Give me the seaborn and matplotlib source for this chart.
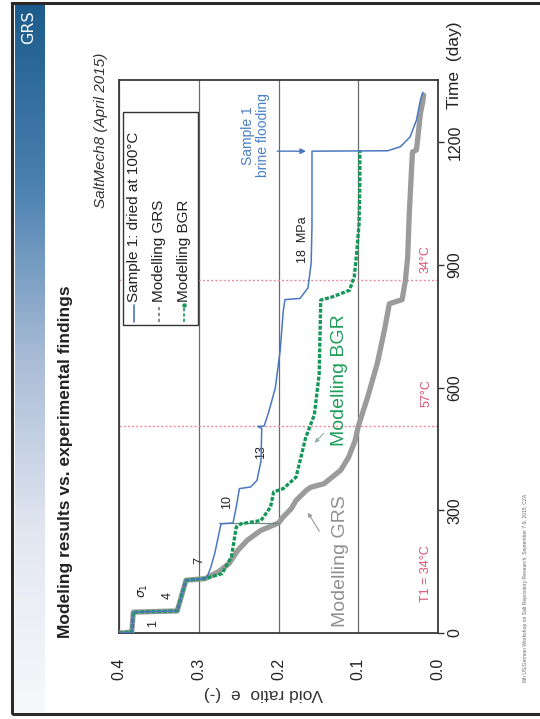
import numpy as np
import matplotlib
matplotlib.use('Agg')
import matplotlib.pyplot as plt
import seaborn as sns
import pandas as pd
from matplotlib.patches import Rectangle
from matplotlib.lines import Line2D
from matplotlib.colors import LinearSegmentedColormap

sns.set_theme(style='white')
plt.rcParams['font.family'] = ['Liberation Sans', 'DejaVu Sans']

# ---------------- data ----------------
# Sample 1 (experiment): void ratio e vs time (day)
sample_e = [0.400, 0.384, 0.382, 0.327, 0.316, 0.292, 0.289, 0.285, 0.280, 0.273, 0.272,
            0.257, 0.253, 0.249, 0.235, 0.227, 0.222, 0.221, 0.226, 0.218, 0.212,
            0.204, 0.198, 0.194, 0.192, 0.173, 0.163, 0.159, 0.158, 0.158,
            0.063, 0.047, 0.035, 0.027, 0.022, 0.019]
sample_t = [0, 2, 51, 54, 129, 133, 140, 160, 194, 259, 267,
            269, 308, 353, 357, 373, 420, 500, 505, 506, 542,
            599, 689, 787, 815, 818, 844, 905, 1000, 1178,
            1179, 1189, 1213, 1254, 1303, 1322]
# Modelling GRS
grs_e = [0.400, 0.384, 0.382, 0.327, 0.316, 0.292, 0.275, 0.262, 0.251, 0.239, 0.222,
         0.200, 0.194, 0.184, 0.178, 0.165, 0.160, 0.143, 0.122, 0.112, 0.104,
         0.100, 0.088, 0.076, 0.067, 0.061, 0.045, 0.041, 0.038, 0.036, 0.033,
         0.032, 0.027, 0.022, 0.019, 0.018]
grs_t = [0, 2, 51, 54, 129, 133, 150, 170, 202, 227, 251,
         269, 284, 304, 324, 349, 356, 365, 398, 430, 470,
         505, 578, 660, 742, 805, 815, 860, 920, 1026, 1140,
         1176, 1181, 1270, 1300, 1315]
# Modelling BGR
bgr_e = [0.400, 0.384, 0.382, 0.327, 0.316, 0.292, 0.271, 0.259, 0.253, 0.247, 0.222,
         0.210, 0.206, 0.194, 0.178, 0.166, 0.155, 0.149, 0.147, 0.132, 0.111,
         0.105, 0.102, 0.099, 0.098, 0.098]
bgr_t = [0, 2, 51, 54, 129, 133, 145, 186, 259, 267, 275,
         308, 345, 353, 381, 477, 534, 633, 814, 822, 838,
         871, 929, 1000, 1100, 1180]
# extra thin step line of the GRS model at ~268 d
grs_step_e = [0.275, 0.200]
grs_step_t = [268, 268]

time_ticks = [0, 300, 600, 900, 1200]
void_ticks = [0.4, 0.3, 0.2, 0.1, 0.0]
void_tick_labels = ['0.4', '0.3', '0.2', '0.1', '0.0']

temp_change_t = [505, 863]
temp_labels = ['T1 = 34°C', '57°C', '34°C']
temp_label_t = [144, 587, 915]

stress_labels = ['1', '4', r'$\sigma_1$', '7', '10', '13', '18  MPa']
stress_e = [0.357, 0.339, 0.369, 0.299, 0.265, 0.222, 0.169]
stress_t = [23, 92, 104, 178, 320, 443, 905]

# ---------------- figure ----------------
W, H = 540, 719
fig = plt.figure(figsize=(W / 100, H / 100), dpi=100)
fig.patch.set_facecolor('white')

def fx(px):
    return px / W

def fy(py):
    return 1 - py / H

# left blue band with gradient
band = fig.add_axes([fx(15), fy(712), fx(45) - fx(15), fy(5) - fy(712)])
grad = np.linspace(0, 1, 256).reshape(-1, 1)
cmap = LinearSegmentedColormap.from_list('band', ['#1c5c8c', '#4a80b0', '#a9bcd6', '#e3e7f1', '#f7f8fb'])
band.imshow(grad, aspect='auto', cmap=cmap, extent=[0, 1, 0, 1], origin='upper')
band.axis('off')
fig.text(fx(29), fy(27), 'GRS', rotation=90, color='white', fontsize=11.5,
         ha='center', va='center', family=['DejaVu Sans'])

# slide frame
fig.add_artist(Rectangle((fx(12), fy(714)), fx(560) - fx(12), fy(3) - fy(714),
                         transform=fig.transFigure, fill=False, ec='#2a2a2a', lw=2.2))

ax = fig.add_axes([fx(119), fy(633), fx(438) - fx(119), fy(80) - fy(633)])
ax.set_facecolor('white')

sns.lineplot(x=grs_e, y=grs_t, sort=False, estimator=None, ax=ax, color='#9b9b9b', lw=3.8, zorder=3)
sns.lineplot(x=grs_step_e, y=grs_step_t, sort=False, estimator=None, ax=ax, color='#6f8a86', lw=0.9, zorder=3)
sns.lineplot(x=bgr_e, y=bgr_t, sort=False, estimator=None, ax=ax, color='#16975a', lw=2.4,
             linestyle=(0, (1.2, 0.5)), zorder=4)
sns.lineplot(x=sample_e, y=sample_t, sort=False, estimator=None, ax=ax, color='#4a78c0', lw=1.1, zorder=5)

ax.set_xlim(0.4, 0.0)
ax.set_ylim(0, 1352)
ax.set_xticks(void_ticks)
ax.set_xticklabels(void_tick_labels)
ax.set_yticks(time_ticks)
ax.yaxis.tick_right()
ax.tick_params(axis='y', labelrotation=90, labelsize=11.5, length=4, width=1, color='#333',
               direction='out', right=True, left=False, pad=3, labelcolor='#222')
ax.tick_params(axis='x', labelrotation=90, labelsize=11.5, length=0, pad=18, labelcolor='#222')
for lab in ax.get_yticklabels():
    lab.set_va('center')
ax.grid(axis='x', color='#6a6a6a', lw=0.9)
ax.grid(axis='y', visible=False)
for s in ax.spines.values():
    s.set_color('#3a3a3a')
    s.set_linewidth(1.3)
ax.set_xlabel('')
ax.set_ylabel('')

# temperature change lines
for tc in temp_change_t:
    ax.axhline(tc, color='#e88c9c', lw=1.0, ls=(0, (1.5, 1.5)), zorder=2)
for lab, tt in zip(temp_labels, temp_label_t):
    ax.text(0.015, tt, lab, rotation=90, color='#e0506e', fontsize=9, ha='center', va='center')

for lab, ee, tt in zip(stress_labels, stress_e, stress_t):
    ax.text(ee, tt, lab, rotation=90, color='#222', fontsize=9, ha='center',
            va='bottom' if 'MPa' in lab else 'center')

ax.text(0.229, 1217, 'Sample 1\nbrine flooding', rotation=90, color='#4a80c4', fontsize=10,
        ha='center', va='center', multialignment='center', linespacing=1.1)
ax.annotate('', xy=(0.162, 1178), xytext=(0.205, 1178),
            arrowprops=dict(arrowstyle='-|>', color='#4a78c0', lw=1, mutation_scale=8))
ax.text(0.124, 619, 'Modelling BGR', rotation=90, color='#1e9e5a', fontsize=14,
        ha='center', va='center')
ax.annotate('', xy=(0.157, 460), xytext=(0.141, 493),
            arrowprops=dict(arrowstyle='-|>', color='#9aa', lw=0.8, mutation_scale=6))
ax.text(0.122, 176, 'Modelling GRS', rotation=90, color='#909090', fontsize=14,
        ha='center', va='center')
ax.annotate('', xy=(0.165, 300), xytext=(0.147, 243),
            arrowprops=dict(arrowstyle='-|>', color='#999', lw=0.8, mutation_scale=6))

# custom rotated legend (axes coordinates)
ax.add_patch(Rectangle((0.0125, 0.557), 0.235, 0.385, transform=ax.transAxes,
                       fill=True, fc='white', ec='#333', lw=1.0, zorder=6))
leg_items = [('Sample 1: dried at 100°C', '#4a78c0', '-', None, 1.2),
             ('Modelling GRS', '#777777', (0, (2, 1.5)), None, 1.2),
             ('Modelling BGR', '#16975a', (0, (2, 1.2)), 'o', 1.2)]
leg_x = [0.046, 0.124, 0.205]
for (txt, col, ls, mk, lw), lx in zip(leg_items, leg_x):
    ax.add_line(Line2D([lx, lx], [0.563, 0.594], transform=ax.transAxes, color=col, ls=ls,
                       lw=lw, marker=mk, markersize=2.2, markevery=[1] if mk else None, zorder=7))
    ax.text(lx, 0.598, txt, transform=ax.transAxes, rotation=90, ha='center', va='bottom',
            fontsize=11, color='#222', zorder=7)

# axis labels & titles
fig.text(fx(263), fy(693), 'Void ratio  e  (-)', rotation=180, fontsize=12.5, color='#333',
         ha='center', va='center')
fig.text(fx(455), fy(65), 'Time  (day)', rotation=90, fontsize=12.5, color='#222',
         ha='center', va='center')
fig.text(fx(66), fy(462), 'Modeling results vs. experimental findings', rotation=90,
         fontsize=12.5, fontweight='bold', color='#222', ha='center', va='center')
fig.text(fx(101), fy(130), 'SaltMech8 (April 2015)', rotation=90, fontsize=11,
         style='italic', color='#333', ha='center', va='center')
fig.text(fx(526), fy(588), '8th US/German Workshop on Salt Repository Research, September 7-9, 2015, CZA',
         rotation=90, fontsize=3.6, color='#666', ha='center', va='center')

fig.savefig('out.png', dpi=100)
